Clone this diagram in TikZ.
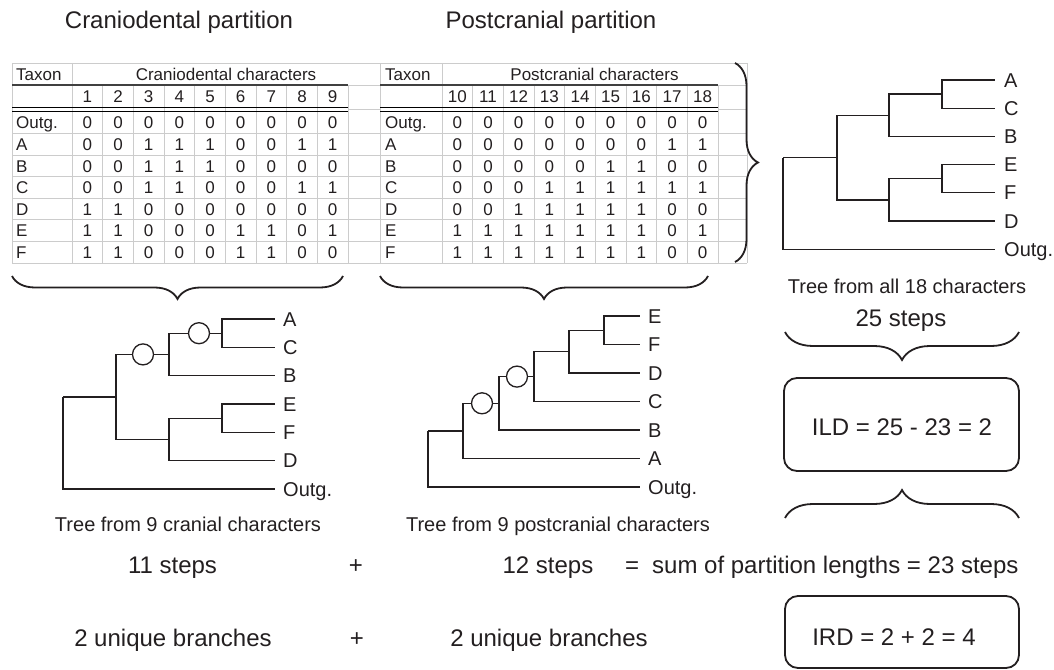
\documentclass[tikz,border=0pt]{standalone}
\usepackage{fontspec}
\setmainfont{Liberation Sans}
\usetikzlibrary{decorations.pathreplacing}
\definecolor{ink}{HTML}{231F20}
\begin{document}
\begin{tikzpicture}[x=1bp,y=-1bp,
  every node/.style={inner sep=0pt, text=ink},
  tabtxt/.style={anchor=base, font=\fontsize{17bp}{20bp}\selectfont},
  tabtax/.style={anchor=base west, font=\fontsize{17bp}{20bp}\selectfont},
  leaf/.style={anchor=base west, font=\fontsize{20bp}{24bp}\selectfont},
  captxt/.style={anchor=base, font=\fontsize{20bp}{24bp}\selectfont},
  bigtxt/.style={anchor=base, font=\fontsize{24bp}{28bp}\selectfont},
  gridln/.style={draw=black!20, line width=0.9bp},
  branch/.style={draw=ink, line width=1.3bp},
  bubble/.style={circle, draw=ink, line width=1.3bp, fill=white, minimum size=21bp},
  bracedec/.style={decorate, decoration={brace, amplitude=#1}, draw=ink, line width=1.8bp},
  resbox/.style={draw=ink, line width=1.8bp, rounded corners=13bp}
]
\useasboundingbox (0,0) rectangle (1054,670);

% ---------- titles
\node[bigtxt] (t1) at (179,28.5) {Craniodental partition};
\node[bigtxt] (t2) at (551,28.5) {Postcranial partition};

% ---------- table grid
\draw[gridln] (12,63) -- (747,63);
\foreach \k in {1,...,7} \draw[gridln] (12,{112+21.571*\k}) -- (747,{112+21.571*\k});
\draw[gridln] (348,85) -- (380,85) (718,85) -- (747,85);
\draw[gridln] (348,109.6) -- (380,109.6) (718,109.6) -- (747,109.6);
\foreach \x in {12,72,380,442,747} \draw[gridln] (\x,63) -- (\x,263);
\foreach \x in {348,718} \draw[gridln] (\x,85) -- (\x,263);
\foreach \k in {1,...,8} {
  \draw[gridln] ({72+30.667*\k},85) -- ({72+30.667*\k},263);
  \draw[gridln] ({442+30.667*\k},85) -- ({442+30.667*\k},263);
}
\draw[line width=1.6bp, draw=black!75] (12,85) -- (348,85) (380,85) -- (718,85);
\draw[line width=1.5bp, draw=black] (12,107.6) -- (348,107.6) (12,111.6) -- (348,111.6)
  (380,107.6) -- (718,107.6) (380,111.6) -- (718,111.6);

% ---------- table headers
\node[tabtax] (LTax) at (16,81) {Taxon};
\node[tabtxt] (LHead) at (226,81) {Craniodental characters};
\node[tabtax] (RTax) at (385,81) {Taxon};
\node[tabtxt] (RHead) at (594.5,81) {Postcranial characters};
\foreach \n [count=\c] in {1,...,9}
  \node[tabtxt] (LN\c) at ({72+30.667*(\c-0.5)},103) {\n};
\foreach \n [count=\c] in {10,...,18}
  \node[tabtxt] (RN\c) at ({442+30.667*(\c-0.5)},103) {\n};

% ---------- table data
\foreach \lab/\vals [count=\r from 0] in {Outg./{0,0,0,0,0,0,0,0,0},A/{0,0,1,1,1,0,0,1,1},B/{0,0,1,1,1,0,0,0,0},C/{0,0,1,1,0,0,0,1,1},D/{1,1,0,0,0,0,0,0,0},E/{1,1,0,0,0,1,1,0,1},F/{1,1,0,0,0,1,1,0,0}} {
  \node[tabtax] (LR\r) at (16,{112+21.571*(\r+0.5)+6.1}) {\lab};
  \foreach \v [count=\c] in \vals
    \node[tabtxt] (L\r-\c) at ({72+30.667*(\c-0.5)},{112+21.571*(\r+0.5)+6.1}) {\v};
}
\foreach \lab/\vals [count=\r from 0] in {Outg./{0,0,0,0,0,0,0,0,0},A/{0,0,0,0,0,0,0,1,1},B/{0,0,0,0,0,1,1,0,0},C/{0,0,0,1,1,1,1,1,1},D/{0,0,1,1,1,1,1,0,0},E/{1,1,1,1,1,1,1,0,1},F/{1,1,1,1,1,1,1,0,0}} {
  \node[tabtax] (RR\r) at (385,{112+21.571*(\r+0.5)+6.1}) {\lab};
  \foreach \v [count=\c] in \vals
    \node[tabtxt] (R\r-\c) at ({442+30.667*(\c-0.5)},{112+21.571*(\r+0.5)+6.1}) {\v};
}

% ---------- braces
\coordinate (bL1) at (343,276); \coordinate (bL2) at (12,276);
\coordinate (bR1) at (708,276); \coordinate (bR2) at (380,276);
\coordinate (bV1) at (735,63);  \coordinate (bV2) at (735,262);
\coordinate (bS1) at (1019,332); \coordinate (bS2) at (785,332);
\coordinate (bI1) at (785,518); \coordinate (bI2) at (1019,518);
\draw[bracedec=23bp] (bL1) -- (bL2);
\draw[bracedec=23bp] (bR1) -- (bR2);
\draw[bracedec=23bp] (bV1) -- (bV2);
\draw[bracedec=28bp] (bS1) -- (bS2);
\draw[bracedec=28bp] (bI1) -- (bI2);

% ---------- full tree
\coordinate (fA) at (995,80);   \coordinate (fC) at (995,108.2);
\coordinate (fB) at (995,136.4); \coordinate (fE) at (995,164.6);
\coordinate (fF) at (995,192.8); \coordinate (fD) at (995,221);
\coordinate (fO) at (995,249.2);
\coordinate (fAC) at (942,94.1);  \coordinate (fACB) at (889,115.25);
\coordinate (fEF) at (942,178.7); \coordinate (fEFD) at (889,199.85);
\coordinate (fIn) at (837,157.55); \coordinate (fRoot) at (783,157.55);
\draw[branch] (fAC) |- (fA) (fAC) |- (fC);
\draw[branch] (fACB) |- (fAC) (fACB) |- (fB);
\draw[branch] (fEF) |- (fE) (fEF) |- (fF);
\draw[branch] (fEFD) |- (fEF) (fEFD) |- (fD);
\draw[branch] (fIn) |- (fACB) (fIn) |- (fEFD);
\draw[branch] (fRoot) |- (fIn) (fRoot) |- (fO);
\foreach \t/\s in {fA/A,fC/C,fB/B,fE/E,fF/F,fD/D,fO/Outg.}
  \node[leaf] (\t-l) at ([shift={(9,7.2)}]\t) {\s};
\node[captxt] (fcap) at (907,293) {Tree from all 18 characters};
\node[bigtxt] (s25) at (901,326.6) {25 steps};

% ---------- left tree
\coordinate (lA) at (275,319);   \coordinate (lC) at (275,347.3);
\coordinate (lB) at (275,375.7); \coordinate (lE) at (275,404);
\coordinate (lF) at (275,432.3); \coordinate (lD) at (275,460.7);
\coordinate (lO) at (275,489);
\coordinate (lAC) at (222,333.2);  \coordinate (lACB) at (169,354.4);
\coordinate (lEF) at (222,418.2);  \coordinate (lEFD) at (169,439.4);
\coordinate (lIn) at (116,396.9);  \coordinate (lRoot) at (63,396.9);
\draw[branch] (lAC) |- (lA) (lAC) |- (lC);
\draw[branch] (lACB) |- (lAC) (lACB) |- (lB);
\draw[branch] (lEF) |- (lE) (lEF) |- (lF);
\draw[branch] (lEFD) |- (lEF) (lEFD) |- (lD);
\draw[branch] (lIn) |- (lACB) (lIn) |- (lEFD);
\draw[branch] (lRoot) |- (lIn) (lRoot) |- (lO);
\node[bubble] (lc1) at (199,333.2) {};
\node[bubble] (lc2) at (143,354.4) {};
\foreach \t/\s in {lA/A,lC/C,lB/B,lE/E,lF/F,lD/D,lO/Outg.}
  \node[leaf] (\t-l) at ([shift={(8,7.2)}]\t) {\s};
\node[captxt] (lcap) at (188,531) {Tree from 9 cranial characters};

% ---------- right tree
\coordinate (rE) at (640,316);   \coordinate (rF) at (640,344.5);
\coordinate (rD) at (640,373);   \coordinate (rC) at (640,401.5);
\coordinate (rB) at (640,430);   \coordinate (rA) at (640,458.5);
\coordinate (rO) at (640,487);
\coordinate (rEF) at (604,330.25);  \coordinate (rEFD) at (569,351.6);
\coordinate (rEFDC) at (534,376.6); \coordinate (rN1) at (499,403.3);
\coordinate (rN2) at (463,430.9);   \coordinate (rRoot) at (428,430.9);
\draw[branch] (rEF) |- (rE) (rEF) |- (rF);
\draw[branch] (rEFD) |- (rEF) (rEFD) |- (rD);
\draw[branch] (rEFDC) |- (rEFD) (rEFDC) |- (rC);
\draw[branch] (rN1) |- (rEFDC) (rN1) |- (rB);
\draw[branch] (rN2) |- (rN1) (rN2) |- (rA);
\draw[branch] (rRoot) |- (rN2) (rRoot) |- (rO);
\node[bubble] (rc1) at (517,376.6) {};
\node[bubble] (rc2) at (482,403.3) {};
\foreach \t/\s in {rE/E,rF/F,rD/D,rC/C,rB/B,rA/A,rO/Outg.}
  \node[leaf] (\t-l) at ([shift={(8,7.2)}]\t) {\s};
\node[captxt] (rcap) at (558,531) {Tree from 9 postcranial characters};

% ---------- ILD / IRD
\node[resbox, minimum width=235bp, minimum height=93bp] (ild) at (901.5,424.5) {};
\node[bigtxt] (ildtxt) at (902,435) {ILD = 25 - 23 = 2};
\node[resbox, minimum width=234bp, minimum height=72bp] (ird) at (902,632) {};
\node[bigtxt] (irdtxt) at (894,645.5) {IRD = 2 + 2 = 4};

% ---------- bottom sums
\node[bigtxt] (s11) at (172.5,573) {11 steps};
\node[bigtxt] (p1) at (356,573) {+};
\node[bigtxt] (s12) at (548,573) {12 steps};
\node[bigtxt, anchor=base west] (sum) at (625,573) {=\hspace{13bp}sum of partition lengths = 23 steps};
\node[bigtxt] (u1) at (173,646) {2 unique branches};
\node[bigtxt] (p2) at (357,646) {+};
\node[bigtxt] (u2) at (549,646) {2 unique branches};
\end{tikzpicture}
\end{document}
